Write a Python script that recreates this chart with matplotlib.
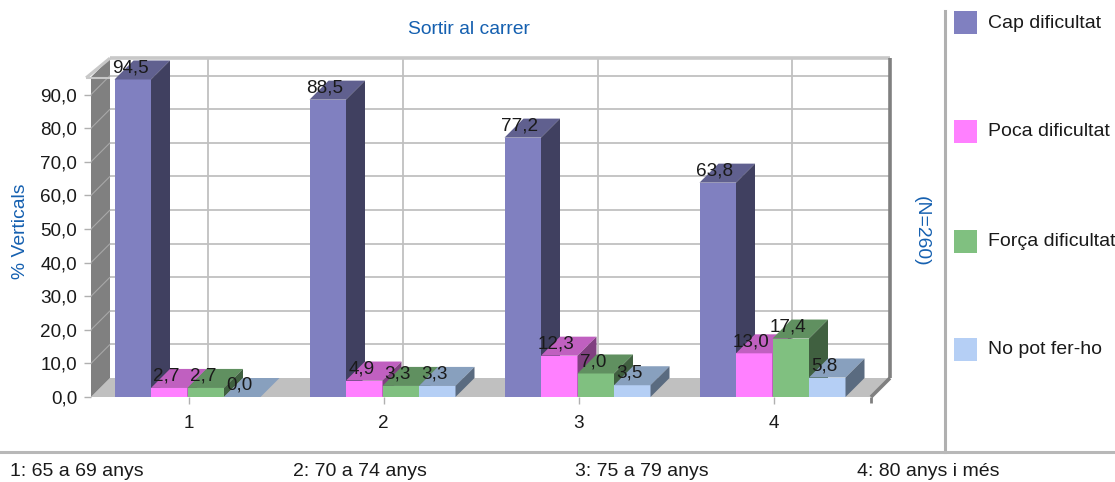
import matplotlib
matplotlib.use("Agg")
import matplotlib.pyplot as plt
from matplotlib.patches import Polygon, Rectangle
import numpy as np

# Here is the data
groups = ["1", "2", "3", "4"]
series_names = ["Cap dificultat", "Poca dificultat", "Força dificultat", "No pot fer-ho"]
cap = [94.5, 88.5, 77.2, 63.8]
poca = [2.7, 4.9, 12.3, 13.0]
forca = [2.7, 3.3, 7.0, 17.4]
no_pot = [0.0, 3.3, 3.5, 5.8]
y_ticks = [0, 10, 20, 30, 40, 50, 60, 70, 80, 90]
footer = ["1: 65 a 69 anys", "2: 70 a 74 anys", "3: 75 a 79 anys", "4: 80 anys i més"]

# front, top, side
colors = [("#8080C0", "#60608F", "#404060"),
          ("#FF80FF", "#C060C0", "#804080"),
          ("#80C080", "#609060", "#406040"),
          ("#B5CFF5", "#88A0BE", "#5A6B80")]
BLUE = "#1560B0"
TXT = "#1a1a1a"
W, H = 1115, 482
FS = 13.6

plt.rcParams['font.family'] = ['Liberation Sans', 'DejaVu Sans']

fig = plt.figure(figsize=(W / 100, H / 100), dpi=100)
# axes = front edge of the floor, 0 to 90 on y
ax = fig.add_axes([91 / W, 1 - 397 / H, 780 / W, 302.4 / H])
ax.set_xlim(0.5, 4.5)
ax.set_ylim(0, 90)
ax.patch.set_visible(False)
for s in ax.spines.values():
    s.set_visible(False)

dx = 19 / 195.0     # depth in x units
dy = 19 / 3.36      # depth in y units
wall_top = 95.2
xa, xb = ax.get_xlim()

def poly(pts, color, z=1):
    ax.add_patch(Polygon(pts, closed=True, fc=color, ec="none", zorder=z, clip_on=False))

def line(xs, ys, color, lw, z=2):
    ax.plot(xs, ys, color=color, lw=lw, zorder=z, clip_on=False, solid_capstyle="butt")

# walls and floor
poly([(xa, 0), (xa + dx, dy), (xb + dx, dy), (xb, 0)], "#C0C0C0")
poly([(xa, 0), (xa + dx, dy), (xa + dx, wall_top + dy), (xa, wall_top)], "#808080")
for t in y_ticks[1:]:
    line([xa + dx, xb + dx], [t + dy, t + dy], "#C0C0C0", 1.3)
    line([xa, xa + dx], [t, t + dy], "#A8A8A8", 0.8)
for i in range(len(groups)):
    line([i + 1 + dx, i + 1 + dx], [dy, wall_top + dy], "#C0C0C0", 1.3)
line([xa - 0.025, xa + dx], [wall_top - 0.2, wall_top + dy], "#C8C8C8", 2.2, 3)
line([xa - 0.025, xa + dx], [wall_top - 0.2, wall_top - 0.2], "#C8C8C8", 1.5, 3)
line([xa + dx, xb + dx], [wall_top + dy, wall_top + dy], "#C8C8C8", 2.6, 3)
line([xb + dx, xb + dx], [dy, wall_top + dy], "#808080", 2.6, 3)
line([xb + dx, xb], [dy, 0], "#808080", 2.6, 3)
line([xb, xb], [0, -1.8], "#808080", 2.0, 3)

# bars, left to right so the next one hides the side of the last
x = np.arange(len(groups)) + 1
bw = 36.5 / 195.0
shift = -1 / 195.0
all_series = [cap, poca, forca, no_pot]
for g in range(len(groups)):
    for s, vals in enumerate(all_series):
        v = vals[g]
        left = x[g] + (s - 2) * bw + shift
        right = left + bw
        c_front, c_top, c_side = colors[s]
        z = 5 + g * 10 + s
        ax.bar(left, v, bw, align="edge", color=c_front, zorder=z, clip_on=False)
        poly([(left, v), (left + dx, v + dy), (right + dx, v + dy), (right, v)], c_top, z)
        poly([(right, 0), (right + dx, dy), (right + dx, v + dy), (right, v)], c_side, z)

for g in range(len(groups)):
    for s, vals in enumerate(all_series):
        left = x[g] + (s - 2) * bw + shift
        ax.annotate(f"{vals[g]:.1f}".replace(".", ","), (left + bw / 2, vals[g]),
                    xytext=(-2, 8.5), textcoords="offset points", ha="center", va="center",
                    fontsize=FS, color=TXT, zorder=100, annotation_clip=False)

ax.set_xticks(x, groups)
ax.set_yticks(y_ticks, [f"{t:.1f}".replace(".", ",") for t in y_ticks])
ax.tick_params(axis="both", length=5, width=1, color="#B0B0B0", labelsize=FS, labelcolor=TXT)
ax.tick_params(axis="y", pad=5)
ax.tick_params(axis="x", pad=8)

# titles
fig.text(469 / W, 1 - 29 / H, "Sortir al carrer", color=BLUE, fontsize=FS + 0.3, ha="center", va="center")
fig.text(21 / W, 1 - 231 / H, "% Verticals", color=BLUE, fontsize=FS + 0.3, rotation=90, ha="center", va="center")
fig.text(921 / W, 1 - 231 / H, "(N=260)", color=BLUE, fontsize=FS + 0.3, rotation=270, ha="center", va="center")

# frame lines
fig.add_artist(plt.Line2D([945 / W, 945 / W], [1 - 11 / H, 1 - 452 / H], color="#B0B0B0", lw=2.2))
fig.add_artist(plt.Line2D([0, 1], [1 - 452 / H, 1 - 452 / H], color="#B8B8B8", lw=2.2))

# legend
legend_y = [11, 120, 230, 338]
for name, c, ly in zip(series_names, colors, legend_y):
    fig.add_artist(Rectangle((954 / W, 1 - (ly + 23) / H), 23 / W, 23 / H, fc=c[0], ec="none",
                             transform=fig.transFigure))
    fig.text(988 / W, 1 - (ly + 12) / H, name, color=TXT, fontsize=FS + 0.4, ha="left", va="center")

# footer
for label, fx in zip(footer, [10, 293, 575, 857]):
    fig.text(fx / W, 1 - 471 / H, label, color=TXT, fontsize=FS + 0.4, ha="left", va="center")

fig.savefig("out.png", dpi=100)
